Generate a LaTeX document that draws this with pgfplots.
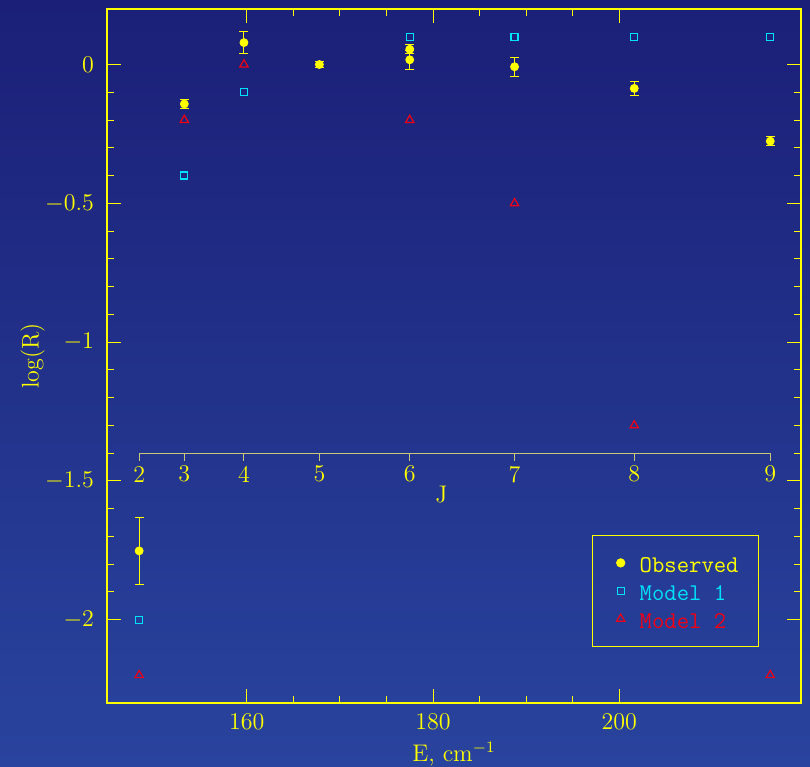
\documentclass[border=0pt]{standalone}
\usepackage{pgfplots}
\pgfplotsset{compat=1.18}
\definecolor{bgtop}{RGB}{27,31,119}
\definecolor{bgbot}{RGB}{41,68,158}
\definecolor{ylw}{RGB}{255,255,0}
\definecolor{jline}{RGB}{200,200,120}
\definecolor{mcyan}{RGB}{0,225,250}
\definecolor{mred}{RGB}{240,0,20}
\begin{document}
\begin{tikzpicture}
\shade[top color=bgtop,bottom color=bgbot] (0,0) rectangle (405pt,383.5pt);
\begin{axis}[
  at={(53.5pt,32pt)}, anchor=south west,
  scale only axis, width=347pt, height=347pt,
  xmin=145, xmax=219.5, ymin=-2.3, ymax=0.2,
  axis line style={ylw, line width=1pt},
  every tick/.style={ylw, line width=0.5pt},
  major tick length=7pt, minor tick length=3.5pt,
  tick align=inside,
  xtick={160,180,200}, minor x tick num=3,
  ytick={-2,-1.5,-1,-0.5,0}, minor y tick num=4,
  tick label style={font=\fontsize{12}{14}\selectfont, text=ylw},
  yticklabel style={xshift=-3pt},
  xticklabel style={yshift=-2pt},
  label style={font=\fontsize{12}{14}\selectfont, text=ylw},
  xlabel={E, cm$^{-1}$},
  ylabel={log(R)},
  xlabel style={at={(axis description cs:0.5,-0.0735)}, anchor=center},
  ylabel style={at={(axis description cs:-0.1073,0.5)}, anchor=center},
  clip=false,
  legend style={at={(0.699,0.0807)}, anchor=south west, draw=ylw, line width=0.6pt, fill=none,
    font=\ttfamily\fontsize{12}{14}\selectfont, inner xsep=10pt, inner ysep=6.75pt,
    column sep=5.5pt, row sep=0pt,
    nodes={inner sep=0pt, minimum height=14pt, text height=10pt, text depth=0pt}},
  legend cell align=left,
  legend image code/.code={\path[draw=none,fill=none] (-4pt,-4pt) rectangle (4pt,4pt); \draw[#1, only marks] plot coordinates {(0pt,0pt)};},
]
\addplot[only marks, mark=*, mark size=2pt, color=ylw,
  error bars/.cd, y dir=both, y explicit,
  error bar style={ylw, line width=0.5pt},
  error mark options={ylw, line width=0.5pt, mark size=2.25pt, rotate=90}]
  coordinates {
  (148.45,-1.752) +- (0,0.122)
  (153.3,-0.142) +- (0,0.017)
  (159.7,0.079)  +- (0,0.040)
  (167.8,0.000)  +- (0,0.010)
  (177.5,0.055)  +- (0,0.016)
  (177.5,0.017)  +- (0,0.035)
  (188.75,-0.008) +- (0,0.034)
  (201.6,-0.086) +- (0,0.024)
  (216.2,-0.276) +- (0,0.016)
  };
\addlegendentry{\textcolor{ylw}{Observed}}
\addplot[only marks, mark=square, mark size=1.75pt, color=mcyan, mark options={line width=0.6pt}]
  coordinates {
  (148.45,-2.0) (153.3,-0.4) (159.7,-0.1) (177.5,0.1) (188.75,0.1) (201.6,0.1) (216.2,0.1)
  };
\addlegendentry{\textcolor{mcyan}{Model 1}}
\addplot[only marks, mark=triangle, mark size=2.4pt, color=mred, mark options={line width=0.6pt}]
  coordinates {
  (148.45,-2.2) (153.3,-0.2) (159.7,0.0) (177.5,-0.2) (188.75,-0.5) (201.6,-1.3) (216.2,-2.2)
  };
\addlegendentry{\textcolor{mred}{Model 2}}
% secondary J axis
\draw[jline, line width=0.5pt] (axis cs:148.45,-1.4) -- (axis cs:216.2,-1.4);
\draw[jline, line width=0.5pt] (axis cs:148.45,-1.4) -- ([yshift=-4pt]axis cs:148.45,-1.4);
\draw[jline, line width=0.5pt] (axis cs:153.3,-1.4) -- ([yshift=-4pt]axis cs:153.3,-1.4);
\draw[jline, line width=0.5pt] (axis cs:159.7,-1.4) -- ([yshift=-4pt]axis cs:159.7,-1.4);
\draw[jline, line width=0.5pt] (axis cs:167.8,-1.4) -- ([yshift=-4pt]axis cs:167.8,-1.4);
\draw[jline, line width=0.5pt] (axis cs:177.5,-1.4) -- ([yshift=-4pt]axis cs:177.5,-1.4);
\draw[jline, line width=0.5pt] (axis cs:188.75,-1.4) -- ([yshift=-4pt]axis cs:188.75,-1.4);
\draw[jline, line width=0.5pt] (axis cs:201.6,-1.4) -- ([yshift=-4pt]axis cs:201.6,-1.4);
\draw[jline, line width=0.5pt] (axis cs:216.2,-1.4) -- ([yshift=-4pt]axis cs:216.2,-1.4);
\begin{scope}[every node/.style={text=ylw, font=\fontsize{12}{14}\selectfont, yshift=-10.5pt}]
\node at (axis cs:148.45,-1.4) {2};
\node at (axis cs:153.3,-1.4) {3};
\node at (axis cs:159.7,-1.4) {4};
\node at (axis cs:167.8,-1.4) {5};
\node at (axis cs:177.5,-1.4) {6};
\node at (axis cs:188.75,-1.4) {7};
\node at (axis cs:201.6,-1.4) {8};
\node at (axis cs:216.2,-1.4) {9};
\end{scope}
\node[text=ylw, font=\fontsize{12}{14}\selectfont] at (axis cs:180.9,-1.55) {J};
\end{axis}
\pgfresetboundingbox
\path (0,0) rectangle (405pt,383.5pt);
\end{tikzpicture}
\end{document}
